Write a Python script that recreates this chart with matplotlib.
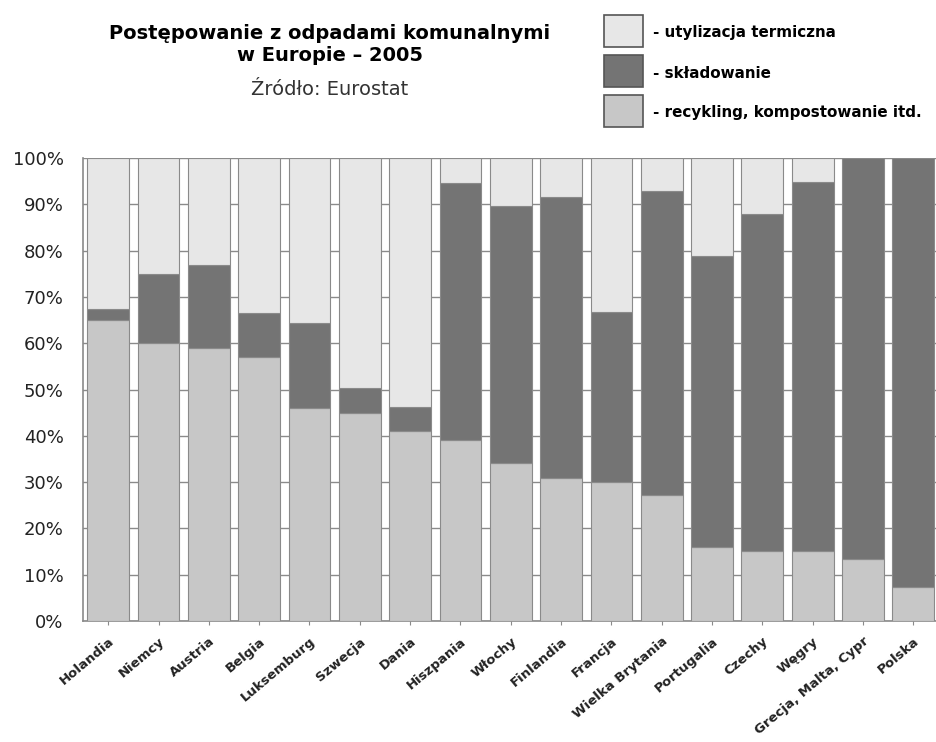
import numpy as np
import matplotlib
matplotlib.use('Agg')
from matplotlib import pyplot as plt
from matplotlib.patches import Rectangle

plt.rcParams['font.family'] = ['DejaVu Sans']

# dane (procent, 2005)
countries = ['Holandia', 'Niemcy', 'Austria', 'Belgia', 'Luksemburg', 'Szwecja',
             'Dania', 'Hiszpania', 'Włochy', 'Finlandia', 'Francja',
             'Wielka Brytania', 'Portugalia', 'Czechy', 'Węgry',
             'Grecja, Malta, Cypr', 'Polska']
recykling = [65, 60, 59, 57, 46, 45, 41, 39, 34.2, 31, 30, 27.2, 16, 15.1, 15.2, 13.3, 7.4]
skladowanie = [2.4, 15, 18, 9.5, 18.4, 5.3, 5.3, 55.6, 55.5, 60.6, 36.7, 65.7, 62.8, 72.8, 79.7, 86.7, 92.6]
termiczna = [32.6, 25, 23, 33.5, 35.6, 49.7, 53.7, 5.4, 10.3, 8.4, 33.3, 7.1, 21.2, 12.1, 5.1, 0, 0]

c_light = '#e7e7e7'
c_dark = '#747474'
c_mid = '#c7c7c7'
edge = '#8a8a8a'

fig = plt.figure(figsize=(9.37, 7.42), dpi=100)
ax = fig.add_axes([0.0886, 0.163, 0.913, 0.624])

x = np.arange(len(countries))
w = 0.83
rec = np.array(recykling)
skl = np.array(skladowanie)
ter = np.array(termiczna)

ax.bar(x, rec, w, color=c_mid, edgecolor=edge, linewidth=0.8, zorder=3)
ax.bar(x, skl, w, bottom=rec, color=c_dark, edgecolor=edge, linewidth=0.8, zorder=3)
ax.bar(x, ter, w, bottom=rec + skl, color=c_light, edgecolor=edge, linewidth=0.8, zorder=3)

ax.set_xlim(-0.5, len(countries) - 0.5)
ax.set_ylim(0, 100)
ax.set_yticks(np.arange(0, 101, 10))
ax.set_yticklabels(['%d%%' % v for v in range(0, 101, 10)], fontsize=13, color='#222222')
ax.yaxis.grid(True, color='#8a8a8a', linewidth=1.0, zorder=0)
ax.set_axisbelow(True)
ax.tick_params(axis='y', length=0, pad=14)

ax.set_xticks(x)
ax.set_xticklabels(countries, rotation=40, ha='right', rotation_mode='anchor',
                   fontsize=9.5, fontweight='bold', color='#222222')
ax.tick_params(axis='x', length=3, color=edge, pad=7)

for s in ['top', 'right']:
    ax.spines[s].set_visible(False)
for s in ['left', 'bottom']:
    ax.spines[s].set_color(edge)
    ax.spines[s].set_linewidth(1.2)

# tytul
fig.text(0.352, 0.967, 'Postępowanie z odpadami komunalnymi\nw Europie \u2013 2005',
         ha='center', va='top', fontsize=14, fontweight='bold', linespacing=1.2)
fig.text(0.352, 0.879, 'Źródło: Eurostat', ha='center', va='center', fontsize=14,
         color='#333333')

# legenda
labels = ['- utylizacja termiczna', '- składowanie', '- recykling, kompostowanie itd.']
cols = [c_light, c_dark, c_mid]
for i, (lab, c) in enumerate(zip(labels, cols)):
    y0 = 742 - 47 - i * 40
    fig.patches.append(Rectangle((604 / 937, y0 / 742), 39 / 937, 32 / 742,
                                 transform=fig.transFigure, facecolor=c,
                                 edgecolor='#555555', linewidth=1.2))
    fig.text(653 / 937, (y0 + 14) / 742, lab, ha='left', va='center',
             fontsize=10.9, fontweight='bold')

plt.savefig('out.png', dpi=100)
